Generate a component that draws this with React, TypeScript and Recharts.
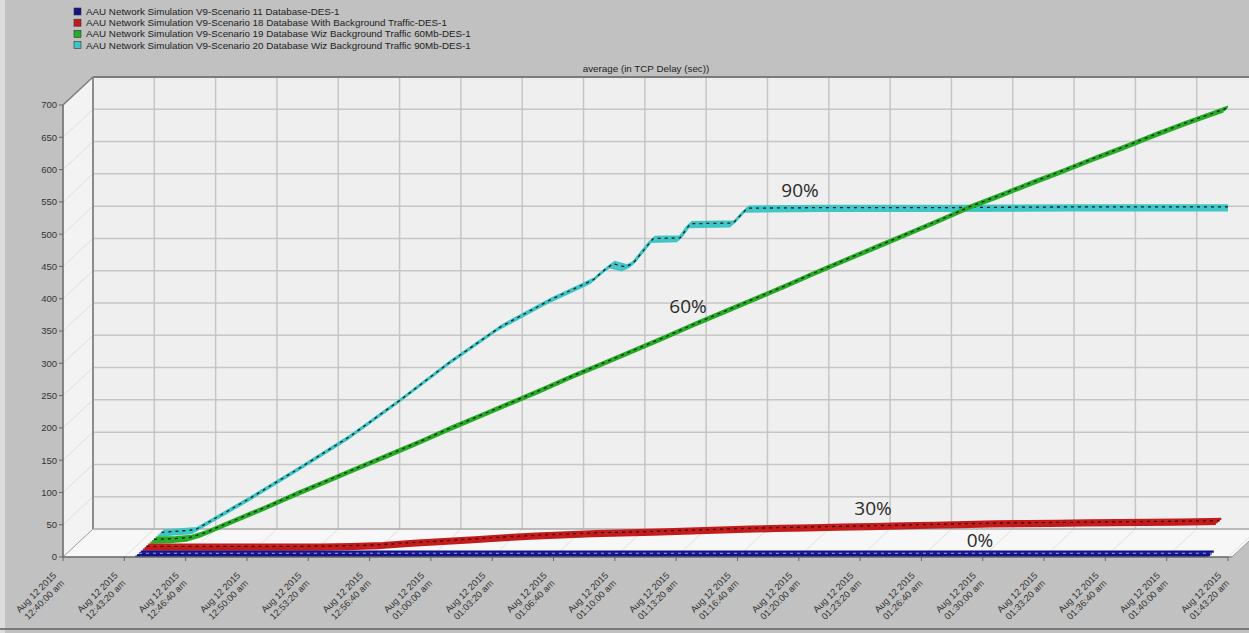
import React from "react";
import { ComposedChart, Line, XAxis, YAxis } from "recharts";

// legend + title
const LEGEND = [
  "AAU Network Simulation V9-Scenario 11 Database-DES-1",
  "AAU Network Simulation V9-Scenario 18 Database With Background Traffic-DES-1",
  "AAU Network Simulation V9-Scenario 19 Database Wiz Background Traffic 60Mb-DES-1",
  "AAU Network Simulation V9-Scenario 20 Database Wiz Background Traffic 90Mb-DES-1",
];
const TITLE = "average (in TCP Delay (sec))";
const DATE_LABEL = "Aug 12 2015";

// x ticks: seconds after 12:40:00 am
const X_TICKS = [0, 200, 400, 600, 800, 1000, 1200, 1400, 1600, 1800, 2000, 2200, 2400, 2600, 2800, 3000, 3200, 3400, 3600, 3800];
const X_TICK_LABELS = [
  "12:40:00 am", "12:43:20 am", "12:46:40 am", "12:50:00 am", "12:53:20 am",
  "12:56:40 am", "01:00:00 am", "01:03:20 am", "01:06:40 am", "01:10:00 am",
  "01:13:20 am", "01:16:40 am", "01:20:00 am", "01:23:20 am", "01:26:40 am",
  "01:30:00 am", "01:33:20 am", "01:36:40 am", "01:40:00 am", "01:43:20 am",
];
const Y_TICKS = [0, 50, 100, 150, 200, 250, 300, 350, 400, 450, 500, 550, 600, 650, 700];

// series values (sec)
const TIME = [235, 300, 353, 400, 500, 600, 700, 800, 900, 1000, 1100, 1200, 1300, 1400, 1500, 1600, 1700, 1800, 1900, 2000, 2100, 2200, 2300, 2400, 2500, 2600, 2700, 2800, 2900, 3000, 3100, 3200, 3300, 3400, 3500, 3600, 3700, 3735];
const DELAY_0 = TIME.map(() => 0);
const DELAY_30 = [0, 0, 0, 0, 0, 0, 0, 0.3, 1, 2.5, 6, 8.5, 11.5, 14.5, 17, 19, 21, 22, 23.5, 25, 26.5, 28, 29, 30, 31, 32, 33, 34, 35, 36, 36.5, 37, 37.5, 38, 38.5, 39, 39.5, 40];
const DELAY_60 = [0, 1, 3, 10, 30, 50, 71, 91, 111, 131, 151, 172, 192, 212, 232, 253, 273, 293, 313, 334, 354, 374, 394, 415, 435, 455, 475, 495, 516, 534, 553, 571, 590, 608, 627, 645, 662, 668];
const TIME_90 = [235, 345, 524, 687, 851, 1014, 1177, 1340, 1503, 1643, 1682, 1708, 1748, 1774, 1839, 1927, 1960, 2100, 2146, 2400, 2800, 3200, 3600, 3735];
const DELAY_90 = [0, 4, 53, 100, 149, 205, 264, 318, 360, 391, 407, 416, 411, 417, 455, 456, 478, 479, 502, 503, 503, 504, 504, 504];

const ANNOTATIONS = ["0%", "30%", "60%", "90%"];

const toRows = (t: number[], v: number[]) => t.map((x, i) => ({ t: x, v: v[i] }));
const SERIES = [
  { rows: toRows(TIME, DELAY_0), color: "#12128c", hatch: "#7b82d6" },
  { rows: toRows(TIME, DELAY_30), color: "#c41a1a", hatch: "#3a0808" },
  { rows: toRows(TIME, DELAY_60), color: "#26ad26", hatch: "#1a1a1a" },
  { rows: toRows(TIME_90, DELAY_90), color: "#3ec6c6", hatch: "#1a1a1a" },
];

// geometry of the pseudo-3d frame
const W = 1249;
const H = 633;
const PL = 63;
const PR = 1228;
const PT = 105;
const PB = 557;
const DX = 30;
const DY = 28;
const T_MAX = 3800;
const V_MAX = 700;
const pxPerSec = (PR - PL) / T_MAX;
const pxPerUnit = (PB - PT) / V_MAX;
const SUBS = [0.09, 0.03, -0.03, -0.09];
const FONT = "'Liberation Sans', Arial, sans-serif";

const depthOf = (k: number, j: number) => (k + 0.4) / 4 + SUBS[j];
const xDomain = (u: number) => [-(DX * u) / pxPerSec, T_MAX - (DX * u) / pxPerSec];
const yDomain = (u: number) => [-(DY * u) / pxPerUnit, V_MAX - (DY * u) / pxPerUnit];

function TimeTick(props: any) {
  const { x, y, payload } = props;
  const label = X_TICK_LABELS[Math.round(payload.value / 200)];
  return (
    <g transform={`translate(${x},${y})`}>
      <text transform="translate(-6,13) rotate(-45)" textAnchor="end" fontSize={9.3} fill="#333" fontFamily={FONT}>
        <tspan x={0} dy={0}>{DATE_LABEL}</tspan>
        <tspan x={0} dy={11}>{label}</tspan>
      </text>
    </g>
  );
}

function Backdrop() {
  const yAt = (v: number) => PB - v * pxPerUnit;
  const xAt = (t: number) => PL + t * pxPerSec;
  const innerY = Y_TICKS.filter((v) => v > 0 && v < V_MAX);
  const innerX = X_TICKS.filter((t) => t > 0);
  const floorRight = PR + 4;
  return (
    <svg width={W} height={H} style={{ position: "absolute", left: 0, top: 0 }}>
      <rect width={W} height={H} fill="#c1c1c1" />
      <rect x={0} y={0} width={5} height={H} fill="#dcdcdc" />
      <line x1={0} x2={W} y1={629} y2={629} stroke="#7a7a7a" strokeWidth={2} />
      <rect x={PL + DX} y={PT - DY} width={W - PL - DX} height={PB - PT} fill="#efefef" />
      <polygon points={`${PL},${PT} ${PL + DX},${PT - DY} ${PL + DX},${PB - DY} ${PL},${PB}`} fill="#f3f3f3" />
      <polygon points={`${PL},${PB} ${PL + DX},${PB - DY} ${floorRight + DX},${PB - DY} ${floorRight},${PB}`} fill="#f7f7f7" />
      {innerY.map((v) => (
        <g key={"h" + v}>
          <line x1={PL + DX} x2={W} y1={yAt(v) - DY} y2={yAt(v) - DY} stroke="#c6c6c6" strokeWidth={1.5} />
          <line x1={PL} x2={PL + DX} y1={yAt(v)} y2={yAt(v) - DY} stroke="#dedede" />
        </g>
      ))}
      {innerX.map((t) => (
        <g key={"v" + t}>
          <line x1={xAt(t) + DX} x2={xAt(t) + DX} y1={PT - DY} y2={PB - DY} stroke="#c6c6c6" strokeWidth={1.5} />
          <line x1={xAt(t)} x2={xAt(t) + DX} y1={PB} y2={PB - DY} stroke="#e0e0e0" />
        </g>
      ))}
      <line x1={PL + DX} x2={W} y1={PT - DY} y2={PT - DY} stroke="#7c7c7c" strokeWidth={2} />
      <line x1={PL + DX} x2={PL + DX} y1={PT - DY} y2={PB - DY} stroke="#8c8c8c" strokeWidth={2} />
      <line x1={PL + DX} x2={W} y1={PB - DY} y2={PB - DY} stroke="#a9a9a9" strokeWidth={1.5} />
      <line x1={PL} x2={PL + DX} y1={PT} y2={PT - DY} stroke="#7c7c7c" strokeWidth={1.5} />
      <line x1={PL} x2={PL + DX} y1={PB} y2={PB - DY} stroke="#a0a0a0" />
      <line x1={floorRight} x2={floorRight + DX} y1={PB} y2={PB - DY} stroke="#9a9a9a" />
      <line x1={PR} x2={floorRight} y1={PB} y2={PB} stroke="#8a8a8a" strokeWidth={1.5} />
      <text x={646} y={72} textAnchor="middle" fontSize={9.8} fill="#222" fontFamily={FONT}>{TITLE}</text>
      {LEGEND.map((name, i) => (
        <g key={name}>
          <rect x={74} y={8 + i * 11.2} width={7} height={7} fill={SERIES[i].color} stroke="#333" strokeWidth={0.6} />
          <text x={86} y={15 + i * 11.2} fontSize={9.8} fill="#222" fontFamily={FONT}>{name}</text>
        </g>
      ))}
    </svg>
  );
}

function Notes() {
  const spots = [
    [980, 547],
    [873, 515],
    [688, 313],
    [800, 197],
  ];
  return (
    <svg width={W} height={H} style={{ position: "absolute", left: 0, top: 0, pointerEvents: "none" }}>
      {ANNOTATIONS.map((txt, i) => (
        <text key={txt} x={spots[i][0]} y={spots[i][1]} textAnchor="middle" fontSize={19} fill="#2a2a2a" fontFamily="'Open Sans', sans-serif">
          {txt}
        </text>
      ))}
    </svg>
  );
}

export default function App() {
  const order = [3, 2, 1, 0];
  return (
    <div style={{ position: "absolute", left: 0, top: 0, width: W, height: H, overflow: "hidden" }}>
      <Backdrop />
      <div style={{ position: "absolute", left: 0, top: 0 }}>
        <ComposedChart width={W} height={H} margin={{ top: PT, right: W - PR, bottom: 6, left: 13 }}>
          <XAxis
            xAxisId="front"
            type="number"
            dataKey="t"
            domain={[0, T_MAX]}
            ticks={X_TICKS}
            interval={0}
            allowDataOverflow
            height={70}
            tickSize={4}
            tickMargin={2}
            axisLine={{ stroke: "#666", strokeWidth: 1.5 }}
            tickLine={{ stroke: "#666" }}
            tick={<TimeTick />}
          />
          <YAxis
            yAxisId="front"
            type="number"
            domain={[0, V_MAX]}
            ticks={Y_TICKS}
            interval={0}
            allowDataOverflow
            width={50}
            tickSize={4}
            tickMargin={2}
            axisLine={{ stroke: "#666", strokeWidth: 1.5 }}
            tickLine={{ stroke: "#666" }}
            tick={{ fontSize: 9.5, fill: "#333", fontFamily: FONT }}
          />
          {order.map((k) =>
            SUBS.map((_, j) => {
              const u = depthOf(k, j);
              return [
                <XAxis key={`xa${k}${j}`} xAxisId={`x${k}${j}`} type="number" dataKey="t" domain={xDomain(u)} allowDataOverflow hide />,
                <YAxis key={`ya${k}${j}`} yAxisId={`y${k}${j}`} type="number" domain={yDomain(u)} allowDataOverflow hide />,
              ];
            })
          )}
          {order.map((k) =>
            [3, 2, 1, 0].map((j) => (
              <Line
                key={`l${k}${j}`}
                data={SERIES[k].rows}
                dataKey="v"
                xAxisId={`x${k}${j}`}
                yAxisId={`y${k}${j}`}
                type="linear"
                stroke={SERIES[k].color}
                strokeWidth={2.2}
                dot={false}
                activeDot={false}
                isAnimationActive={false}
              />
            )).concat(
              <Line
                key={`h${k}`}
                data={SERIES[k].rows}
                dataKey="v"
                xAxisId={`x${k}1`}
                yAxisId={`y${k}1`}
                type="linear"
                stroke={SERIES[k].hatch}
                strokeWidth={1.3}
                strokeDasharray="3 4"
                dot={false}
                activeDot={false}
                isAnimationActive={false}
              />
            )
          )}
        </ComposedChart>
      </div>
      <Notes />
    </div>
  );
}
